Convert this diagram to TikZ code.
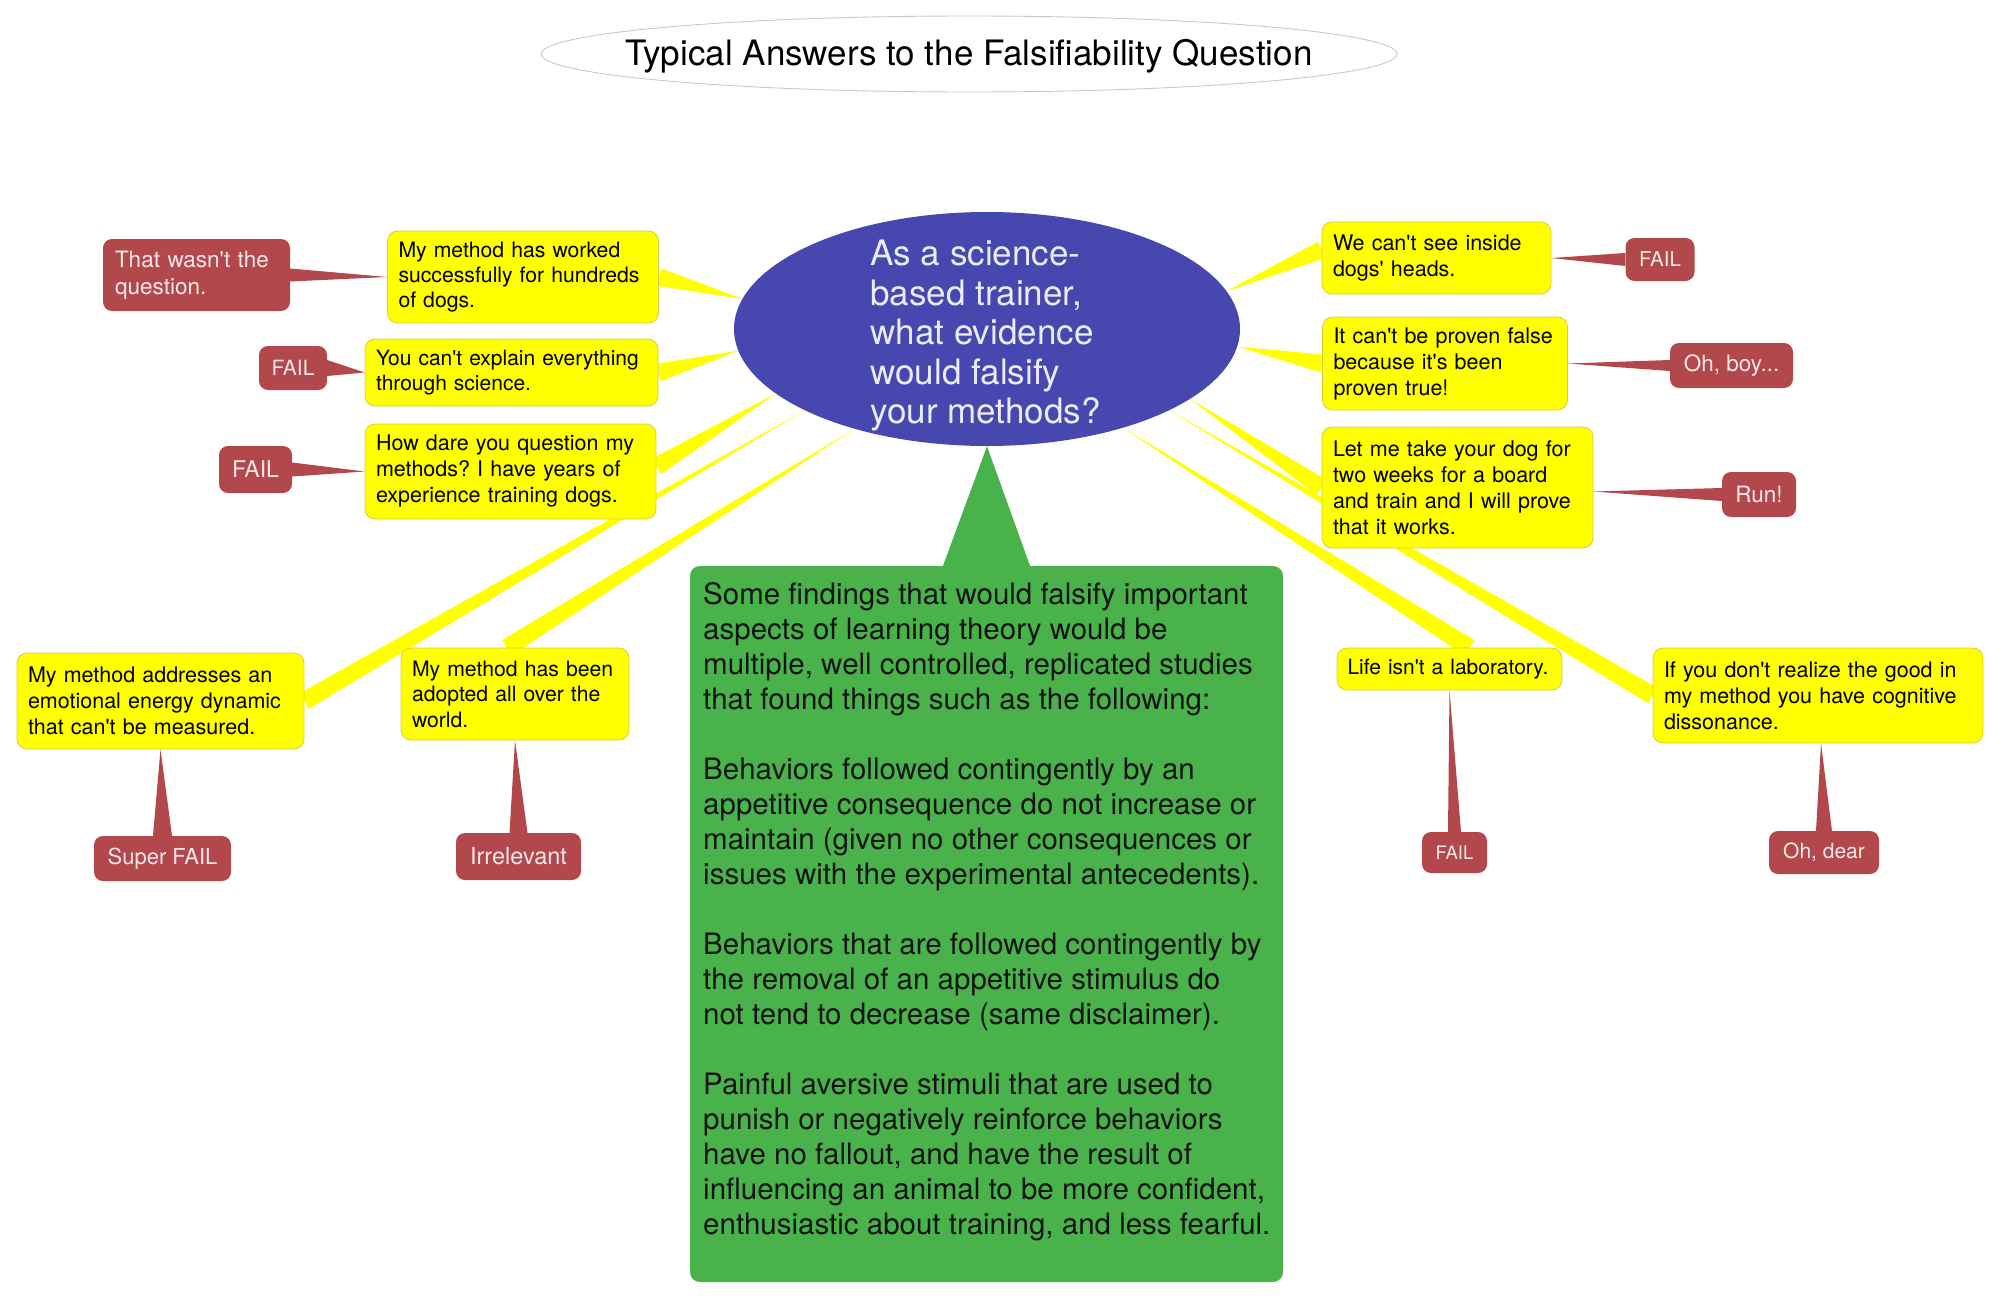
\documentclass[tikz,border=0pt]{standalone}
\usepackage{fontspec}
\setmainfont{TeX Gyre Heros}[Ligatures=TeXOff]
\usepackage{tikz}
\usetikzlibrary{shapes.geometric}
\usetikzlibrary{positioning}
\usetikzlibrary{calc,backgrounds}
\frenchspacing

\definecolor{qblue}{RGB}{70,72,176}
\definecolor{qtext}{RGB}{236,236,248}
\definecolor{ansyellow}{RGB}{255,255,0}
\definecolor{ansline}{RGB}{214,204,64}
\definecolor{failred}{RGB}{178,71,76}
\definecolor{failtext}{RGB}{246,232,232}
\definecolor{findgreen}{RGB}{73,178,74}
\definecolor{ringgray}{RGB}{200,200,200}

\tikzset{
 answer/.style={draw=ansline, line width=0.8pt, fill=ansyellow, rounded corners=10pt, align=left, inner xsep=11pt, inner ysep=3pt, font=\fontsize{21.5}{26}\selectfont},
 verdict/.style={fill=failred, text=failtext, rounded corners=9pt, align=left, inner xsep=12pt, inner ysep=2pt, font=\fontsize{22.5}{27}\selectfont},
 branch/.style={fill=ansyellow},
 callout/.style={fill=failred},
}

\begin{document}
\begin{tikzpicture}[x=1pt,y=-1pt]
\path[use as bounding box] (0,0) rectangle (2002,1300);
% title
\node[font=\fontsize{35}{42}\selectfont] (title) at (969,56) {Typical Answers to the Falsifiability Question};
\draw[ringgray, line width=0.9pt] ([yshift=2pt]title.center) ellipse [x radius=428pt, y radius=38pt];
% question
\node[ellipse, fill=qblue, minimum width=506pt, minimum height=234pt, inner sep=0pt] (question) at (987,329) {};
\node[align=left, text=qtext, font=\fontsize{35}{39.5}\selectfont] (questiontext) at (985.5,336) {As a science-\\based trainer,\\what evidence\\would falsify\\your methods?};
% answers, left
\node[answer, text width=249pt, minimum height=92pt, font=\fontsize{21.2}{25}\selectfont] (worked) at (523,277) {My method has worked\\successfully for hundreds\\of dogs.};
\node[answer, text width=271pt, minimum height=67pt, font=\fontsize{21}{25}\selectfont] (explain) at (511.5,372.5) {You can't explain everything\\through science.};
\node[answer, text width=269pt, minimum height=95pt] (dare) at (510.5,471.5) {How dare you question my\\methods? I have years of\\experience training dogs.};
\node[answer, text width=265pt, minimum height=96pt] (addresses) at (160.5,701) {My method addresses an\\emotional energy dynamic\\that can't be measured.};
\node[answer, text width=206pt, minimum height=92pt, font=\fontsize{21.2}{25.5}\selectfont] (adopted) at (515,694) {My method has been\\adopted all over the\\world.};
% answers, right
\node[answer, text width=207pt, minimum height=72pt] (inside) at (1436.5,258) {We can't see inside\\dogs' heads.};
\node[answer, text width=223pt, minimum height=93pt] (proven) at (1445,363.5) {It can't be proven false\\because it's been\\proven true!};
\node[answer, text width=249pt, minimum height=121pt] (letme) at (1457.5,487.5) {Let me take your dog for\\two weeks for a board\\and train and I will prove\\that it works.};
\node[answer, text width=204pt, inner xsep=10.5pt, minimum height=42pt, font=\fontsize{21}{25}\selectfont] (life) at (1449.5,669) {Life isn't a laboratory.};
\node[answer, text width=308pt, minimum height=95pt] (ifyou) at (1818,695.5) {If you don't realize the good in\\my method you have cognitive\\dissonance.};
% verdicts
\node[verdict, text width=163pt, minimum height=72pt] (wasnt) at (196.5,275) {That wasn't the\\question.};
\node[verdict, minimum width=68pt, minimum height=44pt, align=center, font=\fontsize{21}{25}\selectfont] (failexplain) at (293,368) {FAIL};
\node[verdict, minimum width=73pt, minimum height=47pt, align=center, font=\fontsize{23}{27}\selectfont] (faildare) at (255.5,469.5) {FAIL};
\node[verdict, minimum width=137pt, minimum height=45pt, align=center, font=\fontsize{22}{27}\selectfont] (superfail) at (162.5,858.5) {Super FAIL};
\node[verdict, minimum width=125pt, minimum height=47pt, align=center, font=\fontsize{23.5}{27}\selectfont] (irrelevant) at (518.5,856.5) {Irrelevant};
\node[verdict, minimum width=69pt, minimum height=43pt, align=center, font=\fontsize{20.5}{25}\selectfont] (failinside) at (1660,259.5) {FAIL};
\node[verdict, minimum width=123pt, minimum height=45pt, align=center] (ohboy) at (1731.5,365.5) {Oh, boy...};
\node[verdict, minimum width=74pt, minimum height=45pt, align=center] (run) at (1759,494.5) {Run!};
\node[verdict, minimum width=65pt, minimum height=41pt, align=center, font=\fontsize{18.5}{22}\selectfont] (faillife) at (1454.5,852.5) {FAIL};
\node[verdict, minimum width=110pt, minimum height=43pt, align=center, font=\fontsize{21}{25}\selectfont] (ohdear) at (1824,852.5) {Oh, dear};
% findings
\node[fill=findgreen, rounded corners=10pt, minimum width=593pt, minimum height=716pt, inner sep=0pt] (finding) at (986.5,924) {};
\node[anchor=north west, inner sep=0pt, align=left, text=black!92, font=\fontsize{29.5}{35}\selectfont] (findingtext) at (703,582.5) {Some findings that would falsify important\\aspects of learning theory would be\\multiple, well controlled, replicated studies\\that found things such as the following:\\[35pt]Behaviors followed contingently by an\\appetitive consequence do not increase or\\maintain (given no other consequences or\\issues with the experimental antecedents).\\[35pt]Behaviors that are followed contingently by\\the removal of an appetitive stimulus do\\not tend to decrease (same disclaimer).\\[35pt]Painful aversive stimuli that are used to\\punish or negatively reinforce behaviors\\have no fallout, and have the result of\\influencing an animal to be more confident,\\enthusiastic about training, and less fearful.};
\coordinate (darein) at ([yshift=5pt]dare.east);
\coordinate (adoptedin) at ([xshift=-8pt]adopted.north);
\coordinate (insidein) at ([yshift=8pt]inside.west);
\coordinate (lifein) at ([xshift=20pt]life.north);
\begin{pgfonlayer}{background}
\fill[branch] (question.173) -- ($(worked.east)!9pt!90:(question.173)$) -- ($(worked.east)!9pt!-90:(question.173)$) -- cycle;
\fill[branch] (question.185) -- ($(explain.east)!9pt!90:(question.185)$) -- ($(explain.east)!9pt!-90:(question.185)$) -- cycle;
\fill[branch] (question.197) -- ($(darein)!9pt!90:(question.197)$) -- ($(darein)!9pt!-90:(question.197)$) -- cycle;
\fill[branch] (question.204) -- ($(addresses.east)!9pt!90:(question.204)$) -- ($(addresses.east)!9pt!-90:(question.204)$) -- cycle;
\fill[branch] (question.217) -- ($(adoptedin)!9pt!90:(question.217)$) -- ($(adoptedin)!9pt!-90:(question.217)$) -- cycle;
\fill[branch] (question.9) -- ($(insidein)!9pt!90:(question.9)$) -- ($(insidein)!9pt!-90:(question.9)$) -- cycle;
\fill[branch] (question.356) -- ($(proven.west)!9pt!90:(question.356)$) -- ($(proven.west)!9pt!-90:(question.356)$) -- cycle;
\fill[branch] (question.341) -- ($(letme.west)!9pt!90:(question.341)$) -- ($(letme.west)!9pt!-90:(question.341)$) -- cycle;
\fill[branch] (question.324) -- ($(lifein)!9pt!90:(question.324)$) -- ($(lifein)!9pt!-90:(question.324)$) -- cycle;
\fill[branch] (question.336) -- ($(ifyou.west)!9pt!90:(question.336)$) -- ($(ifyou.west)!9pt!-90:(question.336)$) -- cycle;
\fill[findgreen] ([xshift=-43.5pt]finding.north) -- ([xshift=43.5pt]finding.north) -- (question.south) -- cycle;
\fill[callout] ([yshift=6.5pt]wasnt.east) -- ([yshift=-6.5pt]wasnt.east) -- (worked.west) -- cycle;
\fill[callout] ([yshift=8pt]failexplain.east) -- ([yshift=-8pt]failexplain.east) -- (explain.west) -- cycle;
\fill[callout] ([yshift=7pt]faildare.east) -- ([yshift=-7pt]faildare.east) -- (dare.west) -- cycle;
\fill[callout] ([yshift=6.5pt]failinside.west) -- ([yshift=-6.5pt]failinside.west) -- (inside.east) -- cycle;
\fill[callout] ([yshift=5.5pt]ohboy.west) -- ([yshift=-5.5pt]ohboy.west) -- (proven.east) -- cycle;
\fill[callout] ([yshift=6.5pt]run.west) -- ([yshift=-6.5pt]run.west) -- ([yshift=-4pt]letme.east) -- cycle;
\fill[callout] ([xshift=-9.5pt]superfail.north) -- ([xshift=9.5pt]superfail.north) -- (addresses.south) -- cycle;
\fill[callout] ([xshift=-9pt]irrelevant.north) -- ([xshift=9pt]irrelevant.north) -- (adopted.south) -- cycle;
\fill[callout] ([xshift=-6.5pt]faillife.north) -- ([xshift=6.5pt]faillife.north) -- (life.south) -- cycle;
\fill[callout] ([xshift=-8pt]ohdear.north) -- ([xshift=8pt]ohdear.north) -- ([xshift=3pt]ifyou.south) -- cycle;
\end{pgfonlayer}
\end{tikzpicture}
\end{document}
